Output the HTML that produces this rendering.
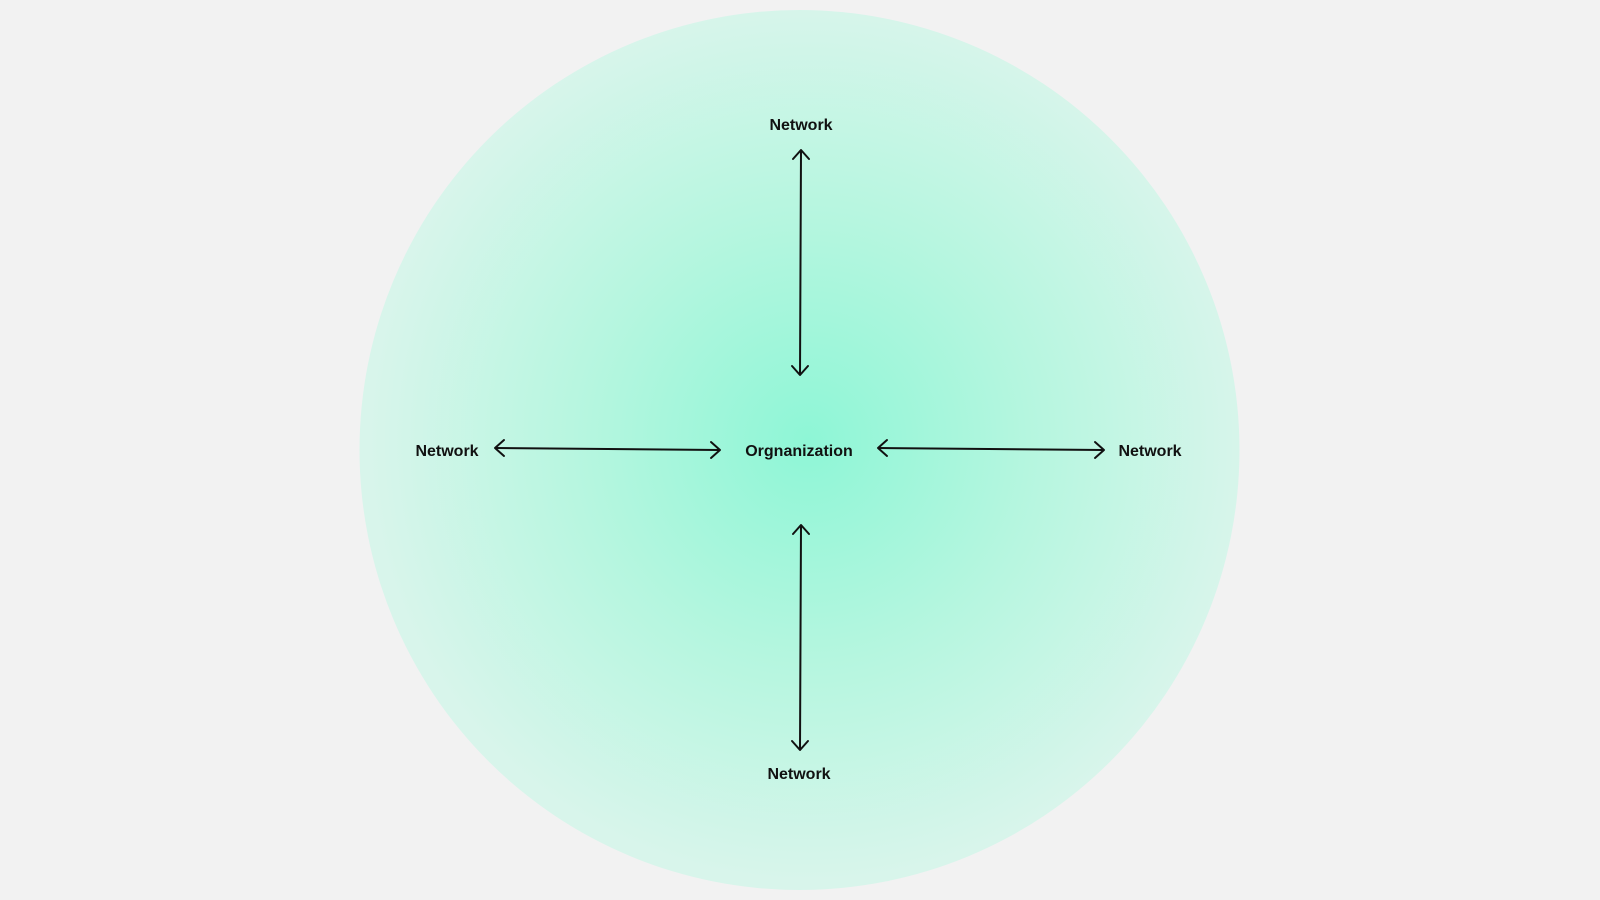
<!DOCTYPE html>
<html><head><style>
html,body{margin:0;padding:0;width:1600px;height:900px;background:#f2f2f2;overflow:hidden}
svg{display:block}
text{font-family:"Liberation Sans",sans-serif;font-weight:bold;font-size:16px;fill:#111}
</style></head><body>
<svg width="1600" height="900" viewBox="0 0 1600 900">
<defs>
<radialGradient id="g" cx="0.51" cy="0.49" r="0.5">
<stop offset="0" stop-color="#8ef6d6"/>
<stop offset="0.5" stop-color="#b5f6df"/>
<stop offset="1" stop-color="#d8f5eb"/>
</radialGradient>
</defs>
<circle cx="799.5" cy="450" r="440" fill="url(#g)"/>
<g stroke="#111" stroke-width="2" fill="none" stroke-linecap="round" stroke-linejoin="round">
<line x1="801" y1="151" x2="800" y2="374"/>
<polyline points="793,159 801,150 809,159"/>
<polyline points="792,366 800,375 808,366"/>
<line x1="801" y1="526" x2="800" y2="749"/>
<polyline points="793,534 801,525 809,534"/>
<polyline points="792,741 800,750 808,741"/>
<line x1="496" y1="448" x2="719" y2="450"/>
<polyline points="504,440 495,448 504,456"/>
<polyline points="711,442 720,450 711,458"/>
<line x1="879" y1="448" x2="1103" y2="450"/>
<polyline points="887,440 878,448 887,456"/>
<polyline points="1095,442 1104,450 1095,458"/>
</g>
<text x="801" y="130" text-anchor="middle">Network</text>
<text x="447" y="456" text-anchor="middle">Network</text>
<text x="799" y="456" text-anchor="middle">Orgnanization</text>
<text x="1150" y="456" text-anchor="middle">Network</text>
<text x="799" y="779" text-anchor="middle">Network</text>
</svg>
</body></html>
